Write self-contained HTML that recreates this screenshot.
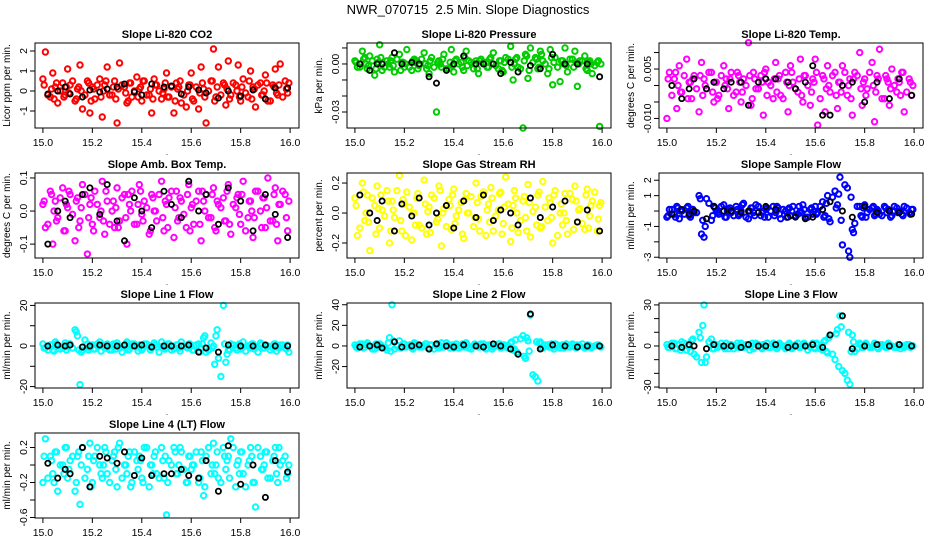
<!DOCTYPE html>
<html><head><meta charset="utf-8"><style>
body{margin:0;background:#fff;}
svg{display:block;font-family:"Liberation Sans",sans-serif;}
</style></head><body>
<svg id="chart" width="936" height="540" viewBox="0 0 936 540">
<rect width="936" height="540" fill="#fff"/>
<text x="468" y="14" font-size="13" text-anchor="middle" style="white-space:pre">NWR_070715  2.5 Min. Slope Diagnostics</text>
</svg>
<script>
const xs=[15.00,15.01,15.03,15.04,15.05,15.06,15.08,15.09,15.10,15.11,15.13,15.14,15.15,15.16,15.18,15.19,15.20,15.21,15.23,15.24,15.25,15.26,15.28,15.29,15.30,15.31,15.33,15.34,15.35,15.36,15.38,15.39,15.40,15.41,15.43,15.44,15.45,15.46,15.48,15.49,15.50,15.51,15.53,15.54,15.55,15.56,15.58,15.59,15.60,15.61,15.63,15.64,15.65,15.66,15.68,15.69,15.70,15.71,15.73,15.74,15.75,15.76,15.78,15.79,15.80,15.81,15.83,15.84,15.85,15.86,15.88,15.89,15.90,15.91,15.93,15.94,15.95,15.96,15.98,15.99];
const xs2=[15.005,15.02,15.035,15.045,15.055,15.07,15.085,15.095,15.105,15.12,15.135,15.145,15.155,15.17,15.185,15.195,15.205,15.22,15.235,15.245,15.255,15.27,15.285,15.295,15.305,15.32,15.335,15.345,15.355,15.37,15.385,15.395,15.405,15.42,15.435,15.445,15.455,15.47,15.485,15.495,15.505,15.52,15.535,15.545,15.555,15.57,15.585,15.595,15.605,15.62,15.635,15.645,15.655,15.67,15.685,15.695,15.705,15.72,15.735,15.745,15.755,15.77,15.785,15.795,15.805,15.82,15.835,15.845,15.855,15.87,15.885,15.895,15.905,15.92,15.935,15.945,15.955,15.97,15.985,15.995];
const bx=[15.02,15.06,15.09,15.11,15.16,15.19,15.23,15.26,15.30,15.33,15.37,15.40,15.44,15.49,15.52,15.56,15.59,15.63,15.66,15.71,15.75,15.80,15.85,15.90,15.94,15.99];
const co2=[0.6,1.95,-0.3,0.9,0.2,-0.6,0.4,-0.2,1.1,0.3,-0.5,0.1,1.3,-0.9,0.5,-1.1,0.2,-0.4,0.6,-1.3,0.3,1.2,-0.2,0.5,-1.6,1.4,0.2,-0.6,0.4,-0.3,0.7,0.1,-0.5,0.5,-0.2,-1.1,0.6,0.3,-0.4,0.1,0.9,-0.3,-1.1,0.4,0.2,-0.6,-0.8,0.3,0.9,-0.5,-0.9,1.2,0.1,-1.6,0.5,2.1,-0.3,1.2,0.4,-0.7,1.5,-0.2,0.3,1.3,-0.5,0.6,-0.3,1.0,0.2,-0.8,0.4,-0.2,0.8,-0.5,0.3,1.1,-0.2,1.35,0.5,-0.1];
const pres=[0.002,-0.002,0.008,0.004,-0.003,0.005,-0.007,0.003,0.012,-0.004,0.002,-0.002,0.004,-0.005,0.006,0.001,-0.002,0.009,-0.004,0.003,0.002,-0.001,0.007,-0.003,-0.006,0.004,-0.030,0.002,-0.002,0.006,-0.003,0.009,-0.005,0.003,0.001,-0.004,0.008,0.002,-0.003,0.002,-0.006,0.003,0.001,-0.002,0.004,0.007,-0.003,0.002,-0.005,0.004,0.011,-0.010,0.003,-0.002,-0.040,0.006,-0.009,0.010,0.004,-0.003,0.008,0.002,-0.006,0.009,-0.013,0.004,-0.011,0.002,0.010,-0.005,0.003,0.008,-0.014,0.002,0.005,-0.004,0.002,-0.006,0.001,-0.039];
const temp=[-0.01,0.004,0.002,-0.007,0.006,-0.002,0.008,0.001,-0.004,0.003,-0.008,0.007,0.002,-0.001,0.004,-0.005,0.001,-0.003,0.006,0.002,-0.007,0.004,-0.002,0.003,-0.005,0.002,0.013,-0.006,0.004,-0.001,0.003,-0.009,0.005,0.001,-0.004,0.007,0.002,-0.003,0.004,-0.008,0.006,0.001,-0.002,0.008,-0.005,0.003,-0.006,0.002,0.008,-0.012,0.003,-0.008,0.006,-0.002,0.004,-0.007,0.001,0.006,-0.003,0.002,-0.009,0.004,0.010,-0.006,0.002,-0.001,0.007,-0.011,0.003,0.011,-0.004,0.002,-0.006,0.005,-0.002,0.001,0.004,-0.008,0.002,-0.003];
const amb=[0.02,-0.05,0.06,-0.1,0.03,-0.02,0.07,-0.06,0.01,0.05,-0.09,0.04,-0.03,0.08,-0.13,0.02,-0.04,0.06,-0.02,0.09,-0.07,0.03,0.0,-0.05,0.07,-0.03,0.05,-0.1,0.02,0.06,-0.04,0.08,-0.01,0.03,-0.07,0.05,0.0,-0.03,0.09,-0.06,0.02,0.04,-0.08,0.06,-0.02,0.03,-0.05,0.08,0.01,-0.04,0.06,-0.09,0.03,0.05,-0.02,0.07,-0.06,0.02,0.04,-0.03,0.08,-0.07,0.01,0.05,-0.04,0.09,-0.02,0.03,-0.08,0.06,0.0,0.04,-0.05,0.1,-0.03,0.07,-0.09,0.02,0.05,-0.06];
const rh=[0.1,-0.15,0.2,-0.05,0.12,-0.25,0.05,0.18,-0.1,0.02,0.15,-0.2,0.08,-0.03,0.25,-0.12,0.06,0.14,-0.18,0.0,0.1,-0.08,0.22,-0.14,0.04,0.12,-0.06,0.18,-0.22,0.03,0.09,-0.11,0.16,-0.02,0.07,-0.17,0.13,0.0,-0.09,0.2,-0.04,0.11,-0.15,0.06,0.17,-0.12,0.02,0.14,-0.07,0.24,-0.19,0.05,0.1,-0.13,0.08,-0.03,0.19,-0.16,0.04,0.12,-0.1,0.21,-0.05,0.07,-0.2,0.15,0.0,-0.08,0.13,-0.14,0.09,0.18,-0.06,0.03,-0.11,0.16,-0.02,0.08,-0.12,0.05];
const samp=[-0.4,0.1,-0.2,0.3,-0.5,0.0,0.2,-0.3,0.1,-0.1,1.0,-1.5,-1.7,0.8,-0.6,0.3,0.0,-0.2,0.4,-0.4,0.1,-0.1,0.3,-0.3,0.0,0.5,-0.5,0.2,-0.1,0.4,-0.3,0.0,0.1,-0.4,0.3,-0.1,0.2,-0.5,0.0,0.1,-0.3,0.3,-0.2,0.0,0.4,-0.4,0.1,-0.2,0.3,-0.1,0.6,-0.3,1.0,-0.7,1.3,0.4,2.2,-2.2,1.5,-3.0,-1.2,-0.8,0.3,-0.4,0.4,-0.1,0.2,-0.3,0.1,-0.2,0.3,-0.1,0.0,-0.3,0.2,0.0,-0.2,0.3,-0.1,0.1];
const l1=[1,-1,0.5,-2,2,0,-1,1.5,-0.5,1,8,5,-19,-2,1,-1,0.5,-1.5,2,0,-1,1,-2,0.5,1.5,-1,0,2,-1.5,1,-0.5,0.5,-2,1,0,-1,1.5,-0.5,2,-1,0,1,-1.5,0.5,-1,2,-0.5,1,0,-2,1,-1,4,-3,1.5,0,5,-6,20,-8,-2,1,-1,0.5,-1.5,2,0,-1,1,-0.5,1.5,-1,0.5,0,-1,1,-0.5,0.5,-1,0.5];
const l2=[1,-2,2,-1,3,0,-3,1,2,-1,-4,8,40,-3,5,-1,2,0,-2,3,1,-1,0,2,-3,1,0,-2,3,-1,1,0,-2,2,-1,1,3,-2,0,1,-1,2,-3,1,0,-1,2,-2,1,-1,3,-4,6,-8,10,-12,5,30,-30,-34,4,-2,1,0,-1,2,-2,1,0,-1,2,-1,1,0,-2,1,0,-1,1,0];
const l3=[1,-1,2,-2,1,3,-3,0,4,-6,10,-12,30,-8,5,-2,1,0,-1,2,-2,1,0,-1,2,-1,1,0,-2,2,-1,1,0,-1,2,-1,0,1,-2,1,0,-1,2,-1,1,0,-1,2,-2,1,-3,4,-5,8,-10,12,22,-18,-25,-28,8,-4,2,-1,1,0,-1,2,-1,1,0,-1,1,0,-1,1,0,-1,1,0];
const l4=[-0.2,0.3,0.1,-0.1,0.15,-0.3,0.0,0.2,-0.15,0.05,-0.3,0.1,-0.45,0.2,-0.05,0.25,-0.2,0.1,0.0,-0.15,0.2,-0.1,0.05,0.15,-0.25,0.25,0.0,-0.1,0.15,-0.2,0.05,0.1,-0.15,0.2,-0.25,0.0,0.1,-0.1,0.2,-0.15,-0.57,0.05,0.2,-0.1,0.0,0.15,-0.2,0.1,-0.05,0.0,-0.2,0.15,-0.35,0.1,-0.1,0.25,0.0,-0.15,0.2,-0.05,0.1,0.3,-0.25,0.05,0.15,-0.1,0.0,0.2,-0.2,-0.48,0.1,-0.05,0.15,-0.15,0.05,0.2,-0.2,0.0,0.1,-0.1];
const cco2=[0.3,-0.2,0.1,-0.4,0.4,0.0,-0.3,0.2,-0.1,0.5,-0.4,0.2,0.0,-0.2,0.4,-0.5,0.1,0.3,-0.3,0.0,0.5,-0.2,0.2,-0.4,0.1,0.3,-0.1,-0.5,0.4,0.0,-0.3,0.2,0.5,-0.2,0.1,-0.4,0.3,0.0,-0.1,0.4,-0.3,0.2,-0.5,0.1,0.5,-0.2,0.0,0.3,-0.4,0.2,-0.1,0.4,-0.3,0.0,0.5,-0.5,0.2,-0.2,0.3,0.1,-0.4,0.4,0.0,-0.3,0.2,-0.1,0.5,-0.4,0.1,0.3,-0.2,0.0,0.4,-0.5,0.2,-0.1,0.3,-0.3,0.1,0.4];
const cpres=[0.001,-0.002,0.003,0.0,-0.001,0.002,-0.003,0.001,0.004,-0.002,0.0,0.002,-0.001,0.003,-0.004,0.001,0.0,-0.002,0.002,0.001,-0.003,0.003,0.0,-0.001,0.002,-0.002,0.001,0.0,0.003,-0.003,0.001,-0.001,0.002,0.0,-0.002,0.004,-0.001,0.001,0.0,-0.003,0.002,0.001,-0.002,0.003,0.0,-0.001,0.002,-0.004,0.001,0.003,-0.002,0.0,0.004,-0.003,0.002,0.005,-0.004,0.001,0.003,-0.002,0.006,0.0,-0.003,0.004,0.001,-0.002,0.002,0.0,-0.001,0.003,-0.002,0.001,0.0,0.002,-0.003,0.001,0.0,-0.001,0.002,0.0];
const ctemp=[0.002,-0.003,0.004,0.0,-0.002,0.003,-0.004,0.001,0.002,-0.001,0.003,-0.003,0.0,0.004,-0.002,0.001,-0.004,0.003,0.0,-0.001,0.002,-0.003,0.004,0.001,-0.002,0.0,0.003,-0.004,0.002,-0.001,0.001,0.004,-0.003,0.0,0.002,-0.002,0.003,-0.004,0.001,0.0,0.004,-0.001,0.002,-0.003,0.003,0.0,-0.002,0.001,0.004,-0.004,0.002,-0.001,0.0,0.003,-0.003,0.001,-0.002,0.004,0.0,-0.004,0.002,0.003,-0.001,0.001,-0.003,0.004,0.0,-0.002,0.002,-0.004,0.003,0.001,-0.001,0.0,0.002,-0.003,0.004,-0.002,0.001,0.0];
const camb=[0.03,-0.04,0.05,0.0,-0.03,0.04,-0.06,0.02,0.06,-0.01,0.03,-0.05,0.01,0.05,-0.02,0.04,-0.06,0.02,0.0,-0.03,0.06,-0.04,0.03,0.01,-0.05,0.04,-0.02,0.05,0.0,-0.04,0.02,0.06,-0.03,0.01,-0.06,0.04,0.0,0.05,-0.02,0.03,-0.05,0.06,0.01,-0.03,0.04,-0.01,0.05,-0.06,0.02,0.03,-0.04,0.06,0.0,-0.02,0.05,-0.05,0.03,0.01,-0.03,0.06,-0.04,0.02,0.04,-0.01,0.05,-0.06,0.03,0.0,-0.02,0.06,-0.05,0.04,0.01,-0.03,0.05,-0.04,0.02,0.06,-0.02,0.03];
const crh=[0.05,-0.1,0.14,0.0,-0.06,0.1,-0.14,0.03,0.12,-0.02,0.08,-0.12,0.02,0.15,-0.05,0.09,-0.15,0.04,0.0,-0.08,0.13,-0.1,0.06,0.01,-0.13,0.1,-0.04,0.15,0.0,-0.09,0.05,0.12,-0.07,0.02,-0.14,0.09,0.0,0.11,-0.03,0.07,-0.12,0.14,0.02,-0.06,0.1,-0.02,0.13,-0.14,0.04,0.06,-0.1,0.15,0.0,-0.05,0.11,-0.12,0.07,0.01,-0.08,0.14,-0.09,0.04,0.1,-0.03,0.12,-0.15,0.06,0.0,-0.05,0.13,-0.11,0.08,0.02,-0.07,0.12,-0.1,0.05,0.14,-0.04,0.07];
const csamp=[-0.3,0.1,-0.4,0.2,0.0,-0.2,0.3,-0.4,0.1,-0.1,0.8,-0.6,-1.0,0.5,-0.3,0.2,-0.1,0.3,-0.4,0.0,0.2,-0.3,0.1,-0.2,0.4,-0.4,0.0,0.2,-0.3,0.3,-0.1,-0.4,0.2,0.0,-0.3,0.3,-0.2,0.1,-0.4,0.2,0.0,-0.3,0.3,-0.1,0.1,-0.4,0.2,0.0,-0.2,0.3,-0.4,0.5,-0.5,0.9,0.2,1.1,-0.6,1.7,-2.6,0.9,-1.4,0.3,-0.3,0.2,-0.4,0.1,0.3,-0.2,0.0,-0.3,0.2,0.1,-0.4,0.3,-0.1,0.0,-0.3,0.2,-0.2,0.1];
const cl1=[-1,-2,0.5,-2.5,1,-1.5,0,-2,1,-1,7,-2,-3,3,-2,0,-1.5,1,-2.5,0.5,-1,-2,1,-1.5,0,-3,1,-2,-0.5,1,-2.5,0,-1,1,-2,-0.5,0.5,-3,0,-1.5,1,-2,-1,0.5,-2.5,0,-1,1,-2,0.5,-3,1,5,-2,-1,-9,8,-15,1,-4,-2,0.5,-2,1,-1,-2.5,0,1,-1.5,-3,0.5,-1,0,-2,1,-2.5,-1,0.5,-1.5,-3];
const cl2=[-1,2,-2,1,0,-3,2,-1,1,-2,3,-5,5,0,-2,2,-1,1,-3,2,0,-1,2,-2,1,-3,2,0,-1,3,-2,1,0,-2,2,-1,1,-3,2,0,-1,2,-2,1,-3,0,2,-1,1,-2,4,-3,-6,7,-10,8,-5,-28,4,3,-2,1,-1,2,-3,1,0,-2,2,-1,1,-2,0,2,-1,1,-2,0,1,-1];
const cl3=[-1,2,-2,1,-3,2,0,-4,5,-8,6,15,-12,3,-2,1,-1,2,-2,0,1,-2,2,-1,0,1,-3,2,-1,1,-2,0,2,-1,1,-2,2,0,-1,2,-2,1,-1,0,2,-3,1,-1,2,-2,3,-4,6,-6,9,-15,14,-20,10,-4,3,-2,1,-1,2,-1,0,1,-2,1,-1,2,0,-1,1,-2,0,1,-1,0];
const cl4=[0.1,-0.15,0.05,-0.2,0.15,0.0,-0.1,0.2,-0.05,0.1,-0.2,0.15,0.0,-0.15,0.1,-0.25,0.05,0.2,-0.1,0.0,0.15,-0.2,0.1,-0.05,0.2,-0.15,0.0,0.1,-0.25,0.15,-0.05,0.05,-0.2,0.2,0.0,-0.1,0.15,-0.15,0.05,0.1,-0.2,0.0,0.15,-0.1,0.2,-0.05,-0.2,0.1,0.0,0.15,-0.15,0.05,-0.25,0.2,0.0,-0.1,0.15,-0.2,0.1,0.05,-0.15,0.2,0.0,-0.1,0.15,-0.25,0.05,0.1,-0.2,0.2,-0.05,0.0,0.15,-0.15,0.1,-0.1,0.2,0.05,-0.15,0.0];
const bco2=[-0.15,0.0,0.2,-0.15,-0.3,0.05,-0.05,0.1,0.2,0.35,-0.05,-0.2,0.35,0.2,0.25,-0.15,0.2,0.05,-0.1,-0.35,0.0,-0.25,0.05,-0.4,0.15,0.15];
const bpres=[0.0,-0.004,0.0,0.0,0.007,0.0,0.001,0.0,-0.008,-0.012,-0.004,0.0,0.005,0.0,0.0,0.0,-0.006,0.001,-0.005,-0.001,-0.003,0.006,0.0,0.0,0.0,-0.008];
const btemp=[0.0,-0.004,-0.001,0.002,-0.001,0.001,-0.001,0.001,0.001,-0.006,0.001,0.002,0.002,0.001,-0.001,0.001,0.006,-0.009,-0.009,0.0,0.001,-0.005,0.001,-0.004,0.002,-0.003];
const bamb=[-0.1,0.0,0.03,-0.02,0.05,0.07,-0.01,0.08,-0.03,-0.09,0.04,0.0,-0.05,0.06,0.02,-0.02,0.09,0.0,0.05,-0.04,0.07,0.03,-0.06,0.05,-0.01,-0.08];
const brh=[0.12,0.0,-0.05,0.08,-0.12,0.06,-0.02,0.1,-0.08,0.0,0.05,-0.1,0.08,-0.03,0.12,-0.05,0.02,0.0,-0.08,0.1,-0.03,0.04,0.08,-0.06,0.02,-0.12];
const bsamp=[-0.2,0.1,-0.2,0.0,-0.5,0.3,0.0,0.0,-0.1,0.0,-0.1,0.3,0.1,-0.4,-0.4,-0.5,-0.4,0.1,0.6,0.0,-0.4,0.3,-0.1,0.0,-0.1,-0.2];
const bl1=[0,0.5,0,0.5,-0.5,0,0.5,0,0,0.5,0,0.5,-0.5,0,0,0,0.5,-3,-1,-3,0.5,0,0,0.5,0,0];
const bl2=[-1,0,1,-2,4,-1,0,1,-3,2,0,-1,1,0,-1,2,0,-3,-8,31,-3,1,0,-1,0,0];
const bl3=[0,-1,1,0,-2,1,0,0,-1,1,0,0,1,-1,0,0,1,-1,8,22,-2,0,1,0,1,0];
const bl4=[0.02,-0.15,-0.05,-0.1,0.2,-0.25,0.1,0.08,0.02,0.15,-0.12,0.08,-0.12,-0.1,-0.1,-0.05,-0.12,-0.15,0.05,-0.3,0.22,-0.22,0.0,-0.37,0.05,-0.08];
const titles=["Slope Li-820 CO2","Slope Li-820 Pressure","Slope Li-820 Temp.","Slope Amb. Box Temp.","Slope Gas Stream RH","Slope Sample Flow","Slope Line 1 Flow","Slope Line 2 Flow","Slope Line 3 Flow","Slope Line 4 (LT) Flow"];
const ytitles=["Licor ppm per min.","kPa per min.","degrees C per min.","degrees C per min.","percent per min.","ml/min per min.","ml/min per min.","ml/min per min.","ml/min per min.","ml/min per min."];
const colors=["#ff0000","#00cc00","#ff00ff","#ff00ff","#ffff00","#0000ff","#00ffff","#00ffff","#00ffff","#00ffff"];
const series=[co2,pres,temp,amb,rh,samp,l1,l2,l3,l4];
const cores=[cco2,cpres,ctemp,camb,crh,csamp,cl1,cl2,cl3,cl4];
const blacks=[bco2,bpres,btemp,bamb,brh,bsamp,bl1,bl2,bl3,bl4];
const yTop=[2.4,0.0131,0.0129,0.115,0.267,2.47,21.2,41.7,31.4,0.366];
const yBot=[-1.85,-0.04,-0.0129,-0.142,-0.3,-3.05,-20.7,-40.8,-30.7,-0.606];
const yTicks=[[-1,0,1,2],[0.01,0,-0.01,-0.02,-0.03],[0.01,0.005,0,-0.005,-0.01],[0.1,0,-0.1],[0.2,0,-0.2],[2,1,0,-1,-2,-3],[20,10,0,-10,-20],[40,20,0,-20],[30,20,10,0,-10,-20,-30],[0.2,0,-0.2,-0.4,-0.6]];
const yLabels=[["-1","0","1","2"],["","0.00","","","-0.03"],["","0.005","","","-0.010"],["0.1","0.0","-0.1"],["0.2","0.0","-0.2"],["2","1","","-1","","-3"],["20","","0","","-20"],["40","20","0","-20"],["30","","","0","","","-30"],["0.2","","-0.2","","-0.6"]];
const xTicks=[15.0,15.2,15.4,15.6,15.8,16.0];
const xLabels=["15.0","15.2","15.4","15.6","15.8","16.0"];

const svg=document.getElementById('chart');
const NS='http://www.w3.org/2000/svg';
function mk(tag,attrs,parent){const e=document.createElementNS(NS,tag);for(const k in attrs)e.setAttribute(k,attrs[k]);(parent||svg).appendChild(e);return e;}
const W=264,H=85,XMIN=14.968,XMAX=16.036;
for(let p=0;p<10;p++){
  const col=p%3,row=Math.floor(p/3);
  const L=35+col*312,T=43+row*130;
  const g=mk('g',{});
  
  
  const sx=v=>L+(v-XMIN)/(XMAX-XMIN)*W;
  const sy=v=>T+(yTop[p]-v)/(yTop[p]-yBot[p])*H;
  const t=mk('text',{x:L+W/2,y:T-5,'font-size':11,'font-weight':'bold','text-anchor':'middle'},g);
  t.textContent=titles[p];
  
  
  const pts=mk('g',{fill:'none',stroke:colors[p],'stroke-width':2},g);
  
  
  const ys=series[p];
  for(let i=0;i<Math.min(xs.length,ys.length);i++){
    const c=mk('circle',{cx:sx(xs[i]),cy:sy(ys[i]),r:2.7},pts);
    
    
  }
  const cs=cores[p];
  for(let i=0;i<Math.min(xs2.length,cs.length);i++){
    const c=mk('circle',{cx:sx(xs2[i]),cy:sy(cs[i]),r:2.7},pts);
    
    
  }
  const bp=mk('g',{fill:'none',stroke:'#000','stroke-width':1.8},g);
  
  
  const by=blacks[p];
  for(let i=0;i<Math.min(bx.length,by.length);i++){
    const c=mk('circle',{cx:sx(bx[i]),cy:sy(by[i]),r:2.6},bp);
    
    
  }
  const box=mk('rect',{x:L,y:T,width:W,height:H,fill:'none',stroke:'#000','stroke-width':1},g);
  
  
  const xa=mk('g',{},g);
  
  
  mk('line',{x1:sx(15),x2:sx(16),y1:T+H,y2:T+H,stroke:'#000'},xa);
  xTicks.forEach((v,i)=>{
    mk('line',{x1:sx(v),x2:sx(v),y1:T+H,y2:T+H+5,stroke:'#000'},xa);
    const tl=mk('text',{x:sx(v),y:T+H+18,'font-size':10.5,'text-anchor':'middle'},xa);
    tl.textContent=xLabels[i];
    
    
  });
  const dot=mk('text',{x:L+W/2,y:T+H+27,'font-size':8,'text-anchor':'middle'},xa);
  dot.textContent='.';
  const ya=mk('g',{},g);
  
  
  yTicks[p].forEach((v,i)=>{
    const yy=sy(v);
    mk('line',{x1:L-5,x2:L,y1:yy,y2:yy,stroke:'#000'},ya);
    if(yLabels[p][i]){
      const tl=mk('text',{x:0,y:0,'font-size':10.5,'text-anchor':'middle',transform:`translate(${L-8},${yy}) rotate(-90)`},ya);
      tl.textContent=yLabels[p][i];
      
      
    }
  });
  const yt=mk('text',{x:0,y:0,'font-size':10,'text-anchor':'middle',transform:`translate(${L-25},${T+H/2}) rotate(-90)`},g);
  yt.textContent=ytitles[p];
  
  
}
</script>
</body></html>
